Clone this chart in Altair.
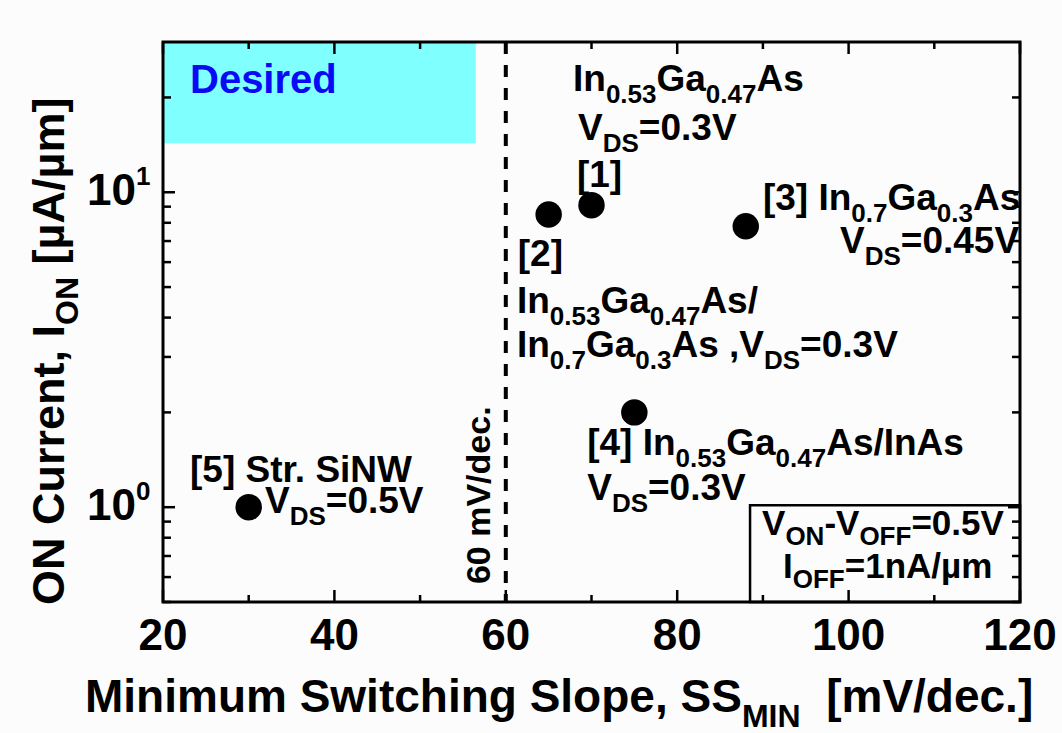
import re
import math
import altair as alt
import pandas as pd

# ---------------- data ----------------
ss_min = [70, 65, 88, 75, 30]          # mV/dec
i_on = [9.1, 8.5, 7.8, 2.0, 1.0]       # uA/um
refs = ["[1]", "[2]", "[3]", "[4]", "[5]"]

x_major = [20, 40, 60, 80, 100, 120]
x_minor = [30, 50, 70, 90, 110]
x_tick_labels = ["20", "40", "60", "80", "100", "120"]
y_major = [1, 10]
y_minor = [0.5, 0.6, 0.7, 0.8, 0.9, 2, 3, 4, 5, 6, 7, 8, 9, 20]
y_tick_labels = ["10^{0}", "10^{1}"]

desired_ss = [20, 56.5]
desired_ion = [14.3, 30]
limit_ss = 60
box_ss = [88.5, 120]
box_ion = [0.5, 1.015]

# ---------------- layout ----------------
W, H = 857, 560
PL, PT = 163, 42
XD = (20, 120)
YD = (0.5, 30)
BG = "#fcfcfc"
FONT = "Liberation Sans"
LOGR = math.log10(YD[1]) - math.log10(YD[0])

XS = alt.Scale(domain=list(XD), nice=False, zero=False)
YS = alt.Scale(type="log", domain=list(YD), nice=False)


def px2x(px):
    return XD[0] + (px - PL) / W * (XD[1] - XD[0])


def py2y(py):
    return 10 ** (math.log10(YD[1]) - (py - PT) / H * LOGR)


CW = {' ': 278, ',': 278, '-': 333, '.': 278, '/': 278, '=': 584, '[': 333, ']': 333,
      'A': 722, 'C': 722, 'D': 722, 'F': 611, 'G': 778, 'I': 278, 'M': 833, 'N': 722,
      'O': 778, 'S': 667, 'V': 667, 'W': 944, 'a': 556, 'c': 556, 'd': 611, 'e': 556,
      'g': 611, 'h': 611, 'i': 278, 'l': 278, 'm': 889, 'n': 611, 'o': 611, 'p': 611,
      'r': 389, 's': 556, 't': 333, 'u': 611, 'w': 778, 'µ': 611}
for d in "0123456789":
    CW[d] = 556


def tw(s, size):
    return sum(CW.get(c, 600) for c in s) * size / 1000


def parse(markup):
    segs = []
    for m in re.finditer(r"_\{([^}]*)\}|\^\{([^}]*)\}|([^_^]+)", markup):
        if m.group(1) is not None:
            segs.append((m.group(1), "s"))
        elif m.group(2) is not None:
            segs.append((m.group(2), "p"))
        else:
            segs.append((m.group(3), "n"))
    return segs


rows = []


def rich(markup, ax, ay, size, small, shift, angle=0, color="black", base_dy=0, sup_shift=None):
    """Lay out a line of text with sub/superscripts, starting at data anchor (ax, ay)."""
    cum = 0.0
    for txt, kind in parse(markup):
        s = size if kind == "n" else small
        lead = len(txt) - len(txt.lstrip(" "))
        cum += tw(" " * lead, s)
        body = txt.strip(" ")
        off = 0 if kind == "n" else (shift if kind == "s" else -(sup_shift if sup_shift else shift))
        if angle == 0:
            ox, oy = cum, base_dy + off
        else:
            ox, oy = base_dy + off, -cum
        x = ax + ox * (XD[1] - XD[0]) / W
        y = ay * 10 ** (-oy * LOGR / H)
        if body:
            rows.append(dict(x=x, y=y, text=body, size=s, color=color, angle=angle))
        cum += tw(txt[lead:], s)


M, S, SH = 37, 26, 12
rich("In_{0.53}Ga_{0.47}As", 67.84, 20.9, M, S, SH)
rich("V_{DS}=0.3V", 68.43, 14.63, M, S, SH)
rich("[1]", 68.3, 10.37, M, S, SH)
rich("[2]", 61.4, 5.82, M, S, SH)
rich("In_{0.53}Ga_{0.47}As/", 61.3, 4.13, M, S, SH)
rich("In_{0.7}Ga_{0.3}As ,V_{DS}=0.3V", 61.3, 2.99, M, S, SH)
rich("[3] In_{0.7}Ga_{0.3}As", 90.0, 8.77, M, S, SH)
rich("V_{DS}=0.45V", 99.0, 6.40, M, S, SH)
rich("[4] In_{0.53}Ga_{0.47}As/InAs", 69.5, 1.463, M, S, SH)
rich("V_{DS}=0.3V", 69.5, 1.052, M, S, SH)
rich("[5] Str. SiNW", 23.15, 1.20, M, S, SH)
rich("V_{DS}=0.5V", 31.9, 0.957, M, S, SH)
rich("Desired", 23.15, 20.6, 40, 30, 0, color="#0a0af5")
rich("V_{ON}-V_{OFF}=0.5V", 89.9, 0.815, 35, 26, 10)
rich("I_{OFF}=1nA/µm", 92.35, 0.595, 35, 26, 10)
rich("60 mV/dec.", 58.16, 0.570, 34, 26, 0, angle=270)

# axis titles and y tick labels (layout text)
rich("Minimum Switching Slope, SS_{MIN}  [mV/dec.]", px2x(85), py2y(712), 46, 32, 15)
rich("ON Current, I_{ON} [µA/µm]", px2x(64), py2y(605), 45, 32, 14, angle=270)
for lab, v in zip(y_tick_labels, y_major):
    rich(lab, px2x(87), v, 44, 26, 0, base_dy=13, sup_shift=20)

tdf = pd.DataFrame(rows)


def text_layer(df, angle):
    return alt.Chart(df).mark_text(font=FONT, fontWeight="bold", align="left",
                                   baseline="alphabetic", angle=angle).encode(
        x=alt.X("x:Q", scale=XS, axis=None),
        y=alt.Y("y:Q", scale=YS, axis=None),
        size=alt.Size("size:Q", scale=None, legend=None),
        color=alt.Color("color:N", scale=None, legend=None),
        text="text:N",
    )


layers = []

# desired region
layers.append(alt.Chart(pd.DataFrame({"x": [desired_ss[0]], "x2": [desired_ss[1]],
                                      "y": [desired_ion[0]], "y2": [desired_ion[1]]}))
              .mark_rect(color="#80ffff", opacity=1)
              .encode(x=alt.X("x:Q", scale=XS, axis=None), x2="x2:Q",
                      y=alt.Y("y:Q", scale=YS, axis=None), y2="y2:Q"))
# condition box
layers.append(alt.Chart(pd.DataFrame({"x": [box_ss[0]], "x2": [box_ss[1]],
                                      "y": [box_ion[0]], "y2": [box_ion[1]]}))
              .mark_rect(fill=BG, stroke="black", strokeWidth=2.5)
              .encode(x=alt.X("x:Q", scale=XS, axis=None), x2="x2:Q",
                      y=alt.Y("y:Q", scale=YS, axis=None), y2="y2:Q"))
# 60 mV/dec limit
layers.append(alt.Chart(pd.DataFrame({"x": [limit_ss]}))
              .mark_rule(color="black", strokeWidth=4, strokeDash=[12, 11])
              .encode(x=alt.X("x:Q", scale=XS, axis=None), y=alt.value(0), y2=alt.value(H)))

# ticks (inward, mirrored)
for vals, ln in ((x_major, 12), (x_minor, 7)):
    d = pd.DataFrame({"v": vals})
    layers.append(alt.Chart(d).mark_rule(color="black", strokeWidth=2.5).encode(
        x=alt.X("v:Q", scale=XS, axis=None), y=alt.value(H), y2=alt.value(H - ln)))
    layers.append(alt.Chart(d).mark_rule(color="black", strokeWidth=2.5).encode(
        x=alt.X("v:Q", scale=XS, axis=None), y=alt.value(0), y2=alt.value(ln)))
for vals, ln in ((y_major, 12), (y_minor, 8)):
    d = pd.DataFrame({"v": vals})
    layers.append(alt.Chart(d).mark_rule(color="black", strokeWidth=2.5).encode(
        y=alt.Y("v:Q", scale=YS, axis=None), x=alt.value(0), x2=alt.value(ln)))
    layers.append(alt.Chart(d).mark_rule(color="black", strokeWidth=2.5).encode(
        y=alt.Y("v:Q", scale=YS, axis=None), x=alt.value(W), x2=alt.value(W - ln)))

# data points
layers.append(alt.Chart(pd.DataFrame({"ss": ss_min, "ion": i_on, "ref": refs}))
              .mark_circle(size=700, color="black", opacity=1)
              .encode(x=alt.X("ss:Q", scale=XS, axis=None),
                      y=alt.Y("ion:Q", scale=YS, axis=None)))

# x tick labels
layers.append(alt.Chart(pd.DataFrame({"v": x_major, "t": x_tick_labels}))
              .mark_text(font=FONT, fontWeight="bold", fontSize=44, align="center",
                         baseline="alphabetic", color="black")
              .encode(x=alt.X("v:Q", scale=XS, axis=None), y=alt.value(H + 48), text="t:N"))

# rich texts
for angle, g in tdf.groupby("angle"):
    layers.append(text_layer(g.reset_index(drop=True), int(angle)))

# frame
layers.append(alt.Chart(pd.DataFrame({"a": [0]}))
              .mark_rect(fillOpacity=0, stroke="black", strokeWidth=3)
              .encode(x=alt.value(0), x2=alt.value(W), y=alt.value(0), y2=alt.value(H)))

chart = alt.layer(*layers).properties(
    width=W, height=H,
    autosize=alt.AutoSizeParams(type="none"),
    padding={"left": PL, "top": PT, "right": 1062 - PL - W, "bottom": 733 - PT - H},
    background=BG,
).configure_view(stroke=None)

chart.save("out.html", embed_options={"renderer": "svg", "actions": False})
